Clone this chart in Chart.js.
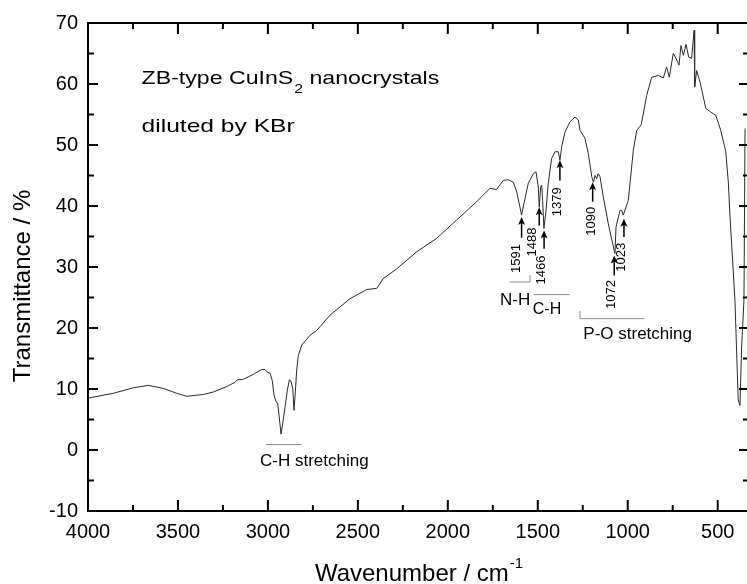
<!DOCTYPE html>
<html>
<head>
<meta charset="utf-8">
<script src="https://cdn.jsdelivr.net/npm/chart.js@4.4.1/dist/chart.umd.min.js"></script>
<style>
  html, body { margin: 0; padding: 0; background: #fff; overflow: hidden; }
  #contenedor { width: 749px; height: 584px; }
</style>
</head>
<body>
<div id="contenedor"><canvas id="espectroFTIR"></canvas></div>
<script>
const numeroOnda = [4000, 3859, 3748, 3665, 3581, 3507, 3451, 3359, 3304, 3229, 3183, 3170, 3137, 3081, 3035, 3016, 3001, 2988,
    2976, 2966, 2955, 2946, 2937, 2927, 2918, 2905, 2892, 2881, 2872, 2862, 2855, 2848, 2840, 2831, 2812, 2766, 2729, 2711,
    2655, 2544, 2451, 2395, 2359, 2284, 2173, 2062, 1951, 1840, 1766, 1729, 1692, 1664, 1636, 1617, 1599, 1590, 1577, 1553,
    1525, 1510, 1497, 1492, 1484, 1478, 1473, 1466, 1454, 1442, 1423, 1404, 1386, 1377, 1367, 1349, 1321, 1293, 1275, 1265,
    1238, 1219, 1200, 1191, 1182, 1173, 1164, 1154, 1136, 1108, 1080, 1071, 1065, 1043, 1034, 1025, 997, 969, 950, 925, 895,
    867, 830, 802, 784, 769, 747, 732, 715, 704, 691, 676, 661, 645, 631, 628, 617, 598, 566, 539, 511, 483, 455, 441, 432,
    404, 386, 376, 367, 354, 348];
const transmitancia = [8.5, 9.3, 10.2, 10.6, 10.1, 9.3, 8.8, 9.1, 9.5, 10.4, 11.1, 11.5, 11.6, 12.4, 13.2, 13.2, 12.7, 12.6,
    11.4, 9.0, 7.9, 7.7, 5.4, 2.6, 4.3, 7.0, 9.8, 11.5, 11.3, 10.1, 6.5, 9.3, 13.1, 15.5, 17.2, 18.8, 19.6, 20.2,
    22.1, 24.8, 26.3, 26.5, 28.1, 29.7, 32.5, 34.7, 37.7, 40.7, 42.9, 42.7, 44.2, 44.3, 43.9, 42.3, 39.8, 38.5, 40.4, 43.7,
    45.3, 45.6, 43.1, 39.8, 43.1, 43.4, 40.9, 36.3, 39.3, 43.7, 47.8, 48.9, 48.9, 47.5, 49.7, 52.1, 53.8, 54.6, 54.1, 52.4,
    51.1, 48.6, 44.8, 43.9, 45.0, 44.5, 45.3, 44.8, 41.5, 37.1, 33.3, 32.2, 36.6, 39.3, 39.3, 38.5, 40.9, 49.1, 52.4, 53.3, 58.1,
    61.1, 61.4, 61.0, 62.8, 61.1, 65.0, 64.2, 63.1, 66.3, 64.7, 66.5, 64.4, 64.2, 68.8, 59.5, 62.2, 60.3, 56.0, 55.4, 54.9, 52.4, 48.9, 43.9, 38.5,
    24.5, 8.2, 7.3, 16.9, 24.5, 52.7];
const ticksX = [4000, 3500, 3000, 2500, 2000, 1500, 1000, 500];
const ticksY = [-10, 0, 10, 20, 30, 40, 50, 60, 70];
const etiquetasPicos = ['1591', '1488', '1466', '1379', '1090', '1072', '1023'];

// Flechas y etiquetas de picos: posición en coordenadas del gráfico
const flechas = [
    { x: 1590, desde: 34.8, hasta: 38.2, tx: 1616, ty: 31.4 },
    { x: 1492, desde: 36.8, hasta: 39.8, tx: 1532, ty: 34.1 },
    { x: 1465, desde: 33.0, hasta: 36.0, tx: 1481, ty: 29.5 },
    { x: 1377, desde: 44.2, hasta: 47.5, tx: 1391, ty: 40.7 },
    { x: 1195, desde: 40.7, hasta: 43.9, tx: 1204, ty: 37.5 },
    { x: 1075, desde: 28.6, hasta: 31.9, tx: 1089, ty: 25.5 },
    { x: 1021, desde: 34.9, hasta: 37.9, tx: 1037, ty: 31.6 }
];

const FUENTE = '"Liberation Sans", Arial, sans-serif';

// Marco, marcas de ejes y anotaciones
const anotaciones = {
    id: 'anotaciones',
    afterDraw(chart) {
        const { ctx, chartArea: a, scales: { x, y } } = chart;
        const px = v => x.getPixelForValue(v);
        const py = v => y.getPixelForValue(v);
        const linea = (x1, y1, x2, y2) => { ctx.beginPath(); ctx.moveTo(x1, y1); ctx.lineTo(x2, y2); ctx.stroke(); };

        ctx.save();
        ctx.strokeStyle = '#000';
        ctx.lineWidth = 2;
        linea(a.left, a.top, a.right, a.top);
        linea(a.right, a.top, a.right, a.bottom);

        // marcas mayores y menores hacia dentro
        for (let v = x.max; v >= x.min; v -= 250) {
            const m = Math.round(v / 250) * 250;
            if (m < x.min || m > x.max) continue;
            const largo = m % 500 === 0 ? 11 : 6;
            linea(px(m), a.bottom, px(m), a.bottom - largo);
            linea(px(m), a.top, px(m), a.top + largo);
        }
        for (let v = y.min; v <= y.max; v += 5) {
            const largo = v % 10 === 0 ? 10 : 6;
            linea(a.left, py(v), a.left + largo, py(v));
            linea(a.right, py(v), a.right - largo, py(v));
        }

        // flechas de picos
        ctx.fillStyle = '#000';
        ctx.lineWidth = 1.5;
        flechas.forEach((f, i) => {
            const xf = px(f.x), y0 = py(f.desde), y1 = py(f.hasta);
            linea(xf, y0, xf, y1 + 5);
            ctx.beginPath();
            ctx.moveTo(xf, y1);
            ctx.lineTo(xf - 3.5, y1 + 8);
            ctx.lineTo(xf, y1 + 6);
            ctx.lineTo(xf + 3.5, y1 + 8);
            ctx.closePath();
            ctx.fill();
            ctx.save();
            ctx.translate(px(f.tx), py(f.ty));
            ctx.rotate(-Math.PI / 2);
            ctx.font = '13px ' + FUENTE;
            ctx.textAlign = 'center';
            ctx.textBaseline = 'middle';
            ctx.fillText(etiquetasPicos[i], 0, 0);
            ctx.restore();
        });

        // textos estirados como en la figura original
        const texto = (t, xx, yy, tam, ancho) => {
            ctx.save();
            ctx.font = tam + 'px ' + FUENTE;
            const esc = ancho ? ancho / ctx.measureText(t).width : 1;
            ctx.translate(xx, yy);
            ctx.scale(esc, 1);
            ctx.fillText(t, 0, 0);
            ctx.restore();
            return ctx.measureText(t).width * esc;
        };
        ctx.textAlign = 'left';
        ctx.textBaseline = 'alphabetic';
        ctx.fillStyle = '#000';
        let xt = px(3702);
        ctx.font = '19px ' + FUENTE;
        const esc = 151.6 / ctx.measureText('ZB-type CuInS').width;
        xt += texto('ZB-type CuInS', xt, py(60.07), 19, 151.6);
        ctx.font = '13px ' + FUENTE;
        xt += texto('2', xt + 1, py(60.07) + 9, 13, ctx.measureText('2').width * esc) + 1;
        ctx.font = '19px ' + FUENTE;
        texto(' nanocrystals', xt, py(60.07), 19, ctx.measureText(' nanocrystals').width * esc);
        texto('diluted by KBr', px(3702), py(52.1), 19, 153);

        texto('N-H', px(1710), py(23.72), 17);
        texto('C-H', px(1528), py(22.25), 16);
        texto('P-O stretching', px(1247), py(18.26), 17);
        ctx.font = '17px ' + FUENTE;
        ctx.textAlign = 'center';
        ctx.fillText('C-H stretching', px(2742), py(-2.6));

        // corchetes grises
        ctx.strokeStyle = '#8c8c8c';
        ctx.lineWidth = 1;
        linea(px(3012), py(0.89), px(2813), py(0.89));
        ctx.beginPath();
        ctx.moveTo(px(1658), py(27.54)); ctx.lineTo(px(1543), py(27.54)); ctx.lineTo(px(1543), py(28.64));
        ctx.stroke();
        linea(px(1523), py(25.48), px(1323), py(25.48));
        ctx.beginPath();
        ctx.moveTo(px(1265), py(22.79)); ctx.lineTo(px(1265), py(21.54)); ctx.lineTo(px(908), py(21.54));
        ctx.stroke();

        // título del eje x con superíndice
        ctx.textAlign = 'left';
        ctx.font = '24px ' + FUENTE;
        const titulo = 'Wavenumber / cm';
        const w1 = ctx.measureText(titulo).width;
        ctx.font = '15px ' + FUENTE;
        const w2 = ctx.measureText('-1').width;
        const x0 = (a.left + a.right) / 2 - (w1 + w2) / 2;
        ctx.font = '24px ' + FUENTE;
        ctx.fillText(titulo, x0, 581);
        ctx.font = '15px ' + FUENTE;
        ctx.fillText('-1', x0 + w1 + 1, 568);

        // título del eje y
        ctx.save();
        ctx.translate(23, 286);
        ctx.rotate(-Math.PI / 2);
        ctx.font = '24px ' + FUENTE;
        ctx.textAlign = 'center';
        ctx.textBaseline = 'middle';
        ctx.fillText('Transmittance / %', 0, 0);
        ctx.restore();
        ctx.restore();
    }
};

const ctx = document.getElementById('espectroFTIR').getContext('2d');
window.chartInstance = new Chart(ctx, {
    type: 'scatter',
    data: {
        datasets: [{
            label: 'ZB-type CuInS2',
            data: numeroOnda.map((v, i) => ({ x: v, y: transmitancia[i] })),
            showLine: true,
            borderColor: '#2a2a2a',
            borderWidth: 1,
            pointRadius: 0,
            tension: 0
        }]
    },
    options: {
        responsive: true,
        maintainAspectRatio: false,
        animation: false,
        layout: { padding: { top: 23, right: 0, bottom: 0, left: 0 } },
        plugins: { legend: { display: false }, tooltip: { enabled: false } },
        scales: {
            x: {
                type: 'linear',
                reverse: true,
                min: 326,
                max: 4000,
                afterBuildTicks: s => { s.ticks = ticksX.map(v => ({ value: v })); },
                afterFit: s => { s.height = 73; },
                grid: { display: false, drawTicks: false },
                border: { display: true, color: '#000', width: 2 },
                ticks: { color: '#000', padding: 9, maxRotation: 0, font: { family: FUENTE, size: 20 }, callback: v => String(v) }
            },
            y: {
                min: -10,
                max: 70,
                afterBuildTicks: s => { s.ticks = ticksY.map(v => ({ value: v })); },
                afterFit: s => { s.width = 88; },
                grid: { display: false, drawTicks: false },
                border: { display: true, color: '#000', width: 2 },
                ticks: { color: '#000', padding: 10, font: { family: FUENTE, size: 20 }, callback: v => String(v) }
            }
        }
    },
    plugins: [anotaciones]
});
</script>
</body>
</html>
